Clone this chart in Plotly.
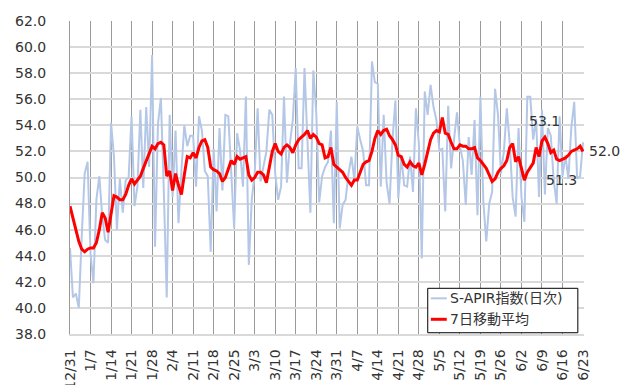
import pandas as pd
import plotly.graph_objects as go

# Daily index values, one row per week starting Sunday 2023-12-31
start_date = "2023-12-31"
daily_index = [
    44.6, 40.8, 41.1, 40.0, 45.5, 50.3, 51.2,
    44.2, 41.9, 48.3, 50.1, 47.0, 45.2, 45.0,
    54.2, 51.6, 46.0, 49.9, 47.3, 49.8, 50.0,
    54.7, 47.8, 49.3, 55.2, 49.2, 55.4, 50.8,
    59.4, 44.7, 54.1, 56.1, 49.0, 40.8, 54.8,
    48.5, 53.6, 46.5, 50.5, 54.0, 52.4, 53.2,
    53.2, 49.3, 54.7, 53.6, 50.5, 50.1, 44.3,
    52.2, 47.4, 53.8, 49.0, 54.8, 54.7, 50.3,
    46.1, 53.4, 52.1, 49.3, 56.2, 43.3, 48.3,
    50.3, 55.3, 49.7, 50.8, 52.0, 55.2, 54.8,
    50.3, 48.3, 49.3, 56.2, 49.6, 52.6, 54.4,
    58.4, 50.7, 50.7, 58.4, 52.9, 47.3, 58.2,
    55.0, 48.1, 50.1, 50.8, 51.2, 53.6, 46.5,
    55.8, 46.1, 47.9, 48.3, 50.3, 51.6, 49.8,
    53.9, 52.9, 52.0, 49.4, 49.4, 58.9, 57.3,
    57.2, 49.3, 54.8, 49.6, 48.0, 52.9, 55.9,
    48.4, 51.6, 49.4, 49.3, 51.6, 48.9, 55.3,
    52.6, 43.8, 56.6, 54.8, 57.1, 55.4, 54.4,
    52.1, 52.2, 47.4, 55.5, 50.7, 52.9, 55.0,
    52.4, 51.3, 47.9, 53.1, 50.2, 54.4, 47.1,
    56.2, 48.1, 45.1, 48.0, 48.9, 56.8, 54.8,
    50.3, 52.0, 55.3, 52.6, 48.5, 47.0, 53.8,
    48.5, 46.6, 56.2, 56.2, 52.9, 54.5, 48.5,
    55.2, 48.7, 53.8, 53.2, 49.8, 48.0, 54.7,
    50.1, 51.7, 49.9, 53.8, 55.8, 49.9, 50.1,
    52.7,
]

# 7-day moving average of the index
moving_avg_7d = [
    47.8, 46.9, 46.0, 45.1, 44.5, 44.3, 44.5,
    44.6, 44.6, 45.0, 46.0, 47.3, 46.9, 45.8,
    47.2, 48.6, 48.5, 48.3, 48.3, 48.7, 49.4,
    49.9, 49.5, 49.8, 50.1, 50.7, 51.3, 51.9,
    52.4, 52.2, 52.6, 52.7, 52.5, 50.1, 50.5,
    49.0, 50.3, 49.4, 48.7, 50.2, 51.6, 51.5,
    51.9, 51.5, 52.3, 52.8, 52.9, 52.3, 50.8,
    50.6, 50.5, 50.3, 49.7, 50.0, 50.6, 51.3,
    51.0, 51.6, 51.4, 51.5, 51.6, 50.2, 49.8,
    50.0, 50.4, 50.4, 50.2, 49.6, 50.7, 52.0,
    52.6, 52.0, 51.8, 52.3, 52.5, 52.3, 51.9,
    52.5, 52.9, 53.1, 53.3, 53.6, 53.0, 53.3,
    53.1, 52.6, 52.5, 51.5, 51.6, 52.3, 51.0,
    50.8, 50.6, 50.4, 50.0, 49.7, 49.4, 49.8,
    49.8, 50.4, 51.0, 51.2, 51.3, 52.0, 53.0,
    53.6, 53.3, 53.6, 53.7, 53.2, 52.9, 52.5,
    51.7, 51.6, 51.0, 50.8, 51.2, 50.9, 50.8,
    51.1, 50.2, 51.0, 51.9, 52.9, 53.4, 53.6,
    53.5, 54.6, 53.4, 53.3, 52.7, 52.2, 52.2,
    52.5, 52.4, 52.4, 52.2, 52.2, 52.3, 51.5,
    51.3, 51.0, 50.7, 50.2, 49.7, 49.9, 50.4,
    50.7, 50.9, 51.3, 52.3, 52.6, 51.2, 51.6,
    50.6, 49.8, 50.4, 50.8, 51.1, 52.3, 51.6,
    52.8, 53.1, 52.6, 51.9, 52.1, 51.4, 51.3,
    51.4, 51.5, 51.7, 52.0, 52.1, 52.2, 52.4,
    52.0,
]

series_names = ["S-APIR指数(日次)", "7日移動平均"]
series_colors = ["#B4C7E7", "#FF0000"]

# Points on the moving average that carry a value label: (date, position)
labelled_points = [("2024-06-10", "above"), ("2024-06-15", "below"), ("2024-06-23", "right")]

dates = pd.date_range(start_date, periods=len(daily_index), freq="D")
tick_dates = pd.date_range(start_date, dates[-1], freq="7D")
tick_text = [f"{d.month}/{d.day}" for d in tick_dates]

FONT = "DejaVu Sans, 'Noto Sans CJK JP', sans-serif"
TEXT = "#333333"

fig = go.Figure()
fig.add_trace(go.Scatter(
    x=dates, y=daily_index, mode="lines", name=series_names[0],
    line=dict(color=series_colors[0], width=2),
))
fig.add_trace(go.Scatter(
    x=dates, y=moving_avg_7d, mode="lines", name=series_names[1],
    line=dict(color=series_colors[1], width=3),
))

# Value labels on the moving average
ma_by_date = dict(zip(dates, moving_avg_7d))
for day, pos in labelled_points:
    d = pd.Timestamp(day)
    v = ma_by_date[d]
    ann = dict(x=d, y=v, xref="x", yref="y", text=f"{v:.1f}", showarrow=False,
               font=dict(family=FONT, size=14, color=TEXT))
    if pos == "above":
        ann.update(yshift=16)
    elif pos == "below":
        ann.update(yshift=-19, xshift=2)
    else:
        ann.update(xanchor="left", xshift=4)
    fig.add_annotation(**ann)

# Legend box drawn in paper coordinates
fig.add_shape(type="rect", xref="paper", yref="paper",
              x0=0.696, x1=0.988, y0=0.004, y1=0.146,
              line=dict(color="black", width=1), fillcolor="white", layer="above")
legend_rows = [0.114, 0.047]
legend_widths = [2, 3]
for name, color, ly, lw in zip(series_names, series_colors, legend_rows, legend_widths):
    fig.add_shape(type="line", xref="paper", yref="paper",
                  x0=0.702, x1=0.733, y0=ly, y1=ly,
                  line=dict(color=color, width=lw), layer="above")
    fig.add_annotation(x=0.736, y=ly, xref="paper", yref="paper", text=name,
                       showarrow=False, xanchor="left", yanchor="middle",
                       font=dict(family=FONT, size=14, color=TEXT))

fig.update_layout(
    width=635, height=385,
    margin=dict(l=70, r=51, t=21, b=51, autoexpand=False),
    paper_bgcolor="white", plot_bgcolor="white",
    showlegend=False,
    font=dict(family=FONT, size=14, color=TEXT),
)
fig.update_xaxes(
    type="date", automargin=False,
    range=[dates[0], dates[-1] + pd.Timedelta(hours=8)],
    tickmode="array", tickvals=tick_dates, ticktext=tick_text,
    tickangle=-90, ticks="", ticklabelstandoff=8,
    showgrid=True, gridcolor="#9a9a9a", gridwidth=1,
    showline=True, linecolor="#d9d9d9", linewidth=1.5,
    zeroline=False,
)
fig.update_yaxes(
    automargin=False,
    range=[38, 62], tick0=38, dtick=2, tickformat=".1f",
    ticks="", ticklabelstandoff=20,
    showgrid=True, gridcolor="#d9d9d9", gridwidth=1.5,
    showline=True, linecolor="#9a9a9a", linewidth=1,
    zeroline=False,
)

fig.write_html("out.html")
